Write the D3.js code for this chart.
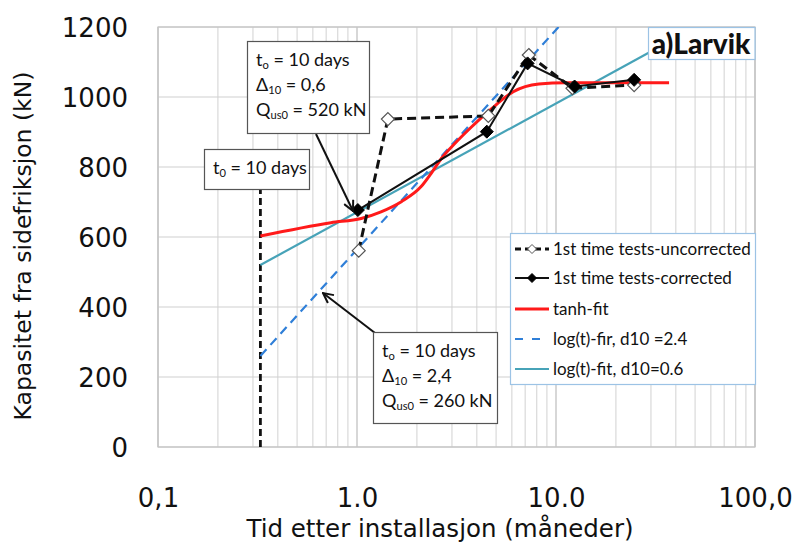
<!DOCTYPE html>
<html><head><meta charset="utf-8">
<script src="https://cdn.jsdelivr.net/npm/d3@7"></script>
<style>body{margin:0;background:#fff}svg{display:block}</style>
</head><body>
<svg id="c" width="799" height="544"></svg>
<script>
// ---- data ----
const uncorrT = [1.02, 1.43, 4.57, 7.3, 12.1, 24.7];
const uncorrQ = [561, 937, 946, 1120, 1025, 1034];
const corrT = [1.01, 4.49, 7.2, 12.4, 24.7];
const corrQ = [677, 901, 1096, 1030, 1049];
const tanhT = [0.327, 0.74, 1.05, 1.32, 1.67, 2.10, 2.36, 2.66, 3.10, 3.77, 4.75, 6.1, 8.2, 11.2, 37];
const tanhQ = [603, 641, 653, 672, 701, 744, 782, 825, 867, 915, 967, 1015, 1037, 1041, 1041];
const fit24T = [0.327, 10.3];
const fit24Q = [260, 1200];
const fit06T = [0.327, 30];
const fit06Q = [520, 1130];
const t0 = 0.327;
const xTickVals = [0.1, 1, 10, 100];
const xTickLabels = ["0,1", "1.0", "10.0", "100,0"];
const yTickVals = [0, 200, 400, 600, 800, 1000, 1200];
const legendLabels = ["1st time tests-uncorrected", "1st time tests-corrected", "tanh-fit", "log(t)-fir, d10 =2.4", "log(t)-fit, d10=0.6"];

// ---- layout ----
const svg = d3.select("#c");
const L = 158, R = 755, T = 27, B = 447;
const x = d3.scaleLog().domain([0.1, 100]).range([L, R]);
const y = d3.scaleLinear().domain([0, 1200]).range([B, T]);
const C_RED = "#ff1a1a", C_BLUE = "#2f7fd8", C_TEAL = "#47a3b8";

// grid
const minor = [];
for (let d = 0.1; d < 100; d *= 10) for (let k = 1; k < 10; k++) minor.push(d * k);
minor.push(100);
svg.append("g").selectAll("line").data(minor).join("line")
  .attr("x1", d => x(d)).attr("x2", d => x(d)).attr("y1", T).attr("y2", B)
  .attr("stroke", d => xTickVals.some(v => Math.abs(v - d) / v < 1e-6) ? "#bdbdbd" : "#d9d9d9").attr("stroke-width", 1.2);
svg.append("g").selectAll("line").data(yTickVals).join("line")
  .attr("x1", L).attr("x2", R).attr("y1", d => y(d)).attr("y2", d => y(d))
  .attr("stroke", "#d0d0d0").attr("stroke-width", 1.2);
svg.append("rect").attr("x", L).attr("y", T).attr("width", R - L).attr("height", B - T)
  .attr("fill", "none").attr("stroke", "#c4c4c4").attr("stroke-width", 1.2);

// axes (labels only)
const xAxis = d3.axisBottom(x).tickValues(xTickVals).tickFormat((d, i) => xTickLabels[i]).tickSize(0).tickPadding(0);
const gx = svg.append("g").attr("transform", `translate(0,${B})`).call(xAxis);
gx.select(".domain").remove();
gx.selectAll("text").attr("font-family", "DejaVu Sans").attr("font-size", 26).attr("fill", "#111").attr("dy", null).attr("y", 60);
const yAxis = d3.axisLeft(y).tickValues(yTickVals).tickFormat(d3.format("d")).tickSize(0).tickPadding(0);
const gy = svg.append("g").attr("transform", `translate(128,0)`).call(yAxis);
gy.select(".domain").remove();
gy.selectAll("text").attr("font-family", "DejaVu Sans").attr("font-size", 26).attr("fill", "#111").attr("x", 0).attr("dy", "0.36em");

svg.append("text").attr("x", 440).attr("y", 537).attr("text-anchor", "middle")
  .attr("font-family", "DejaVu Sans").attr("font-size", 24.5).attr("fill", "#111")
  .text("Tid etter installasjon (måneder)");
svg.append("text").attr("transform", "translate(31,246) rotate(-90)").attr("text-anchor", "middle")
  .attr("font-family", "DejaVu Sans").attr("font-size", 23.5).attr("fill", "#111")
  .text("Kapasitet fra sidefriksjon (kN)");

// clip
svg.append("defs").append("clipPath").attr("id", "pc").append("rect")
  .attr("x", L).attr("y", T).attr("width", R - L).attr("height", B - T);
const plot = svg.append("g").attr("clip-path", "url(#pc)");

const line = d3.line().x(d => x(d[0])).y(d => y(d[1]));
const zip = (a, b) => a.map((v, i) => [v, b[i]]);

// t0 vertical dashed
plot.append("line").attr("x1", x(t0)).attr("x2", x(t0)).attr("y1", y(0)).attr("y2", 189)
  .attr("stroke", "#111").attr("stroke-width", 2.8).attr("stroke-dasharray", "7,4");

plot.append("path").attr("d", line(zip(fit06T, fit06Q))).attr("fill", "none").attr("stroke", C_TEAL).attr("stroke-width", 2.2);
plot.append("path").attr("d", line(zip(fit24T, fit24Q))).attr("fill", "none").attr("stroke", C_BLUE).attr("stroke-width", 2.2).attr("stroke-dasharray", "9,6");
plot.append("path").attr("d", line.curve(d3.curveMonotoneX)(zip(tanhT, tanhQ))).attr("fill", "none").attr("stroke", C_RED).attr("stroke-width", 3);
line.curve(d3.curveLinear);
plot.append("path").attr("d", line(zip(uncorrT, uncorrQ))).attr("fill", "none").attr("stroke", "#111").attr("stroke-width", 3).attr("stroke-dasharray", "9,5");
plot.append("path").attr("d", line(zip(corrT, corrQ))).attr("fill", "none").attr("stroke", "#111").attr("stroke-width", 2);

const diamond = s => `M0,${-s}L${s},0L0,${s}L${-s},0Z`;
plot.append("g").selectAll("path").data(zip(uncorrT, uncorrQ)).join("path")
  .attr("transform", d => `translate(${x(d[0])},${y(d[1])})`).attr("d", diamond(6.5))
  .attr("fill", "#fff").attr("stroke", "#555").attr("stroke-width", 1.2);
plot.append("g").selectAll("path").data(zip(corrT, corrQ)).join("path")
  .attr("transform", d => `translate(${x(d[0])},${y(d[1])})`).attr("d", diamond(6.5))
  .attr("fill", "#000").attr("stroke", "#000");

// arrows
const defs = svg.select("defs");
defs.append("marker").attr("id", "ah").attr("viewBox", "0 0 12 12").attr("refX", 11).attr("refY", 6)
  .attr("markerWidth", 12).attr("markerHeight", 12).attr("markerUnits", "userSpaceOnUse").attr("orient", "auto")
  .append("path").attr("d", "M1,1L11,6L1,11").attr("fill", "none").attr("stroke", "#111").attr("stroke-width", 2);
svg.append("line").attr("x1", 316).attr("y1", 134).attr("x2", 353).attr("y2", 211)
  .attr("stroke", "#111").attr("stroke-width", 2).attr("marker-end", "url(#ah)");
svg.append("line").attr("x1", 375).attr("y1", 333).attr("x2", 323).attr("y2", 293)
  .attr("stroke", "#111").attr("stroke-width", 2).attr("marker-end", "url(#ah)");

// annotation boxes
function box(x0, y0, w, h, lines, lh, fs) {
  const g = svg.append("g");
  g.append("rect").attr("x", x0 + 0.5).attr("y", y0 + 0.5).attr("width", w).attr("height", h)
    .attr("fill", "#fff").attr("stroke", "#555").attr("stroke-width", 1.2);
  lines.forEach((ln, i) => {
    const t = g.append("text").attr("x", x0 + 9).attr("y", y0 + lh[i])
      .attr("font-family", "Lato").attr("font-size", fs).attr("fill", "#111");
    ln.forEach(seg => {
      const ts = t.append("tspan").text(seg[0]);
      if (seg[1] === "sub") ts.attr("font-size", fs * 0.62).attr("baseline-shift", "-30%");
    });
  });
}
box(247, 41, 122, 92, [
  [["t"], ["o", "sub"], [" = 10 days"]],
  [["Δ"], ["10", "sub"], [" = 0,6"]],
  [["Q"], ["us0", "sub"], [" = 520 kN"]]
], [25, 50, 75], 18);
box(373, 332, 124, 91, [
  [["t"], ["o", "sub"], [" = 10 days"]],
  [["Δ"], ["10", "sub"], [" = 2,4"]],
  [["Q"], ["us0", "sub"], [" = 260 kN"]]
], [25, 50, 75], 18);
box(204, 149, 105, 40, [
  [["t"], ["0", "sub"], [" = 10 days"]]
], [25], 18);

// Larvik box
svg.append("rect").attr("x", 648.5).attr("y", 27.5).attr("width", 106.5).attr("height", 32)
  .attr("fill", "#fff").attr("stroke", "#9cc3e5").attr("stroke-width", 1.2);
svg.append("text").attr("x", 701).attr("y", 54).attr("text-anchor", "middle")
  .attr("font-family", "Lato").attr("font-weight", "900").attr("font-size", 28).attr("fill", "#111").text("a)Larvik");

// legend
const lg = svg.append("g");
lg.append("rect").attr("x", 510.5).attr("y", 233.5).attr("width", 245).attr("height", 151)
  .attr("fill", "#fff").attr("stroke", "#9cc3e5").attr("stroke-width", 1.2);
const rowsY = [249, 278, 309, 339, 369];
const styles = [
  {c: "#111", w: 3, da: "6,4", m: "open"},
  {c: "#111", w: 2, da: null, m: "fill"},
  {c: C_RED, w: 3, da: null},
  {c: C_BLUE, w: 2.2, da: "8,9"},
  {c: C_TEAL, w: 2.2, da: null}
];
legendLabels.forEach((lab, i) => {
  const s = styles[i], yy = rowsY[i];
  lg.append("line").attr("x1", 515).attr("x2", 549).attr("y1", yy).attr("y2", yy)
    .attr("stroke", s.c).attr("stroke-width", s.w).attr("stroke-dasharray", s.da);
  if (s.m) lg.append("path").attr("transform", `translate(532,${yy})`).attr("d", diamond(4.5))
    .attr("fill", s.m === "open" ? "#fff" : "#000").attr("stroke", s.m === "open" ? "#555" : "#000").attr("stroke-width", 1);
  lg.append("text").attr("x", 553).attr("y", yy + 6).attr("font-family", "Lato").attr("font-size", 17)
    .attr("fill", "#111").text(lab);
});
</script>
</body></html>
